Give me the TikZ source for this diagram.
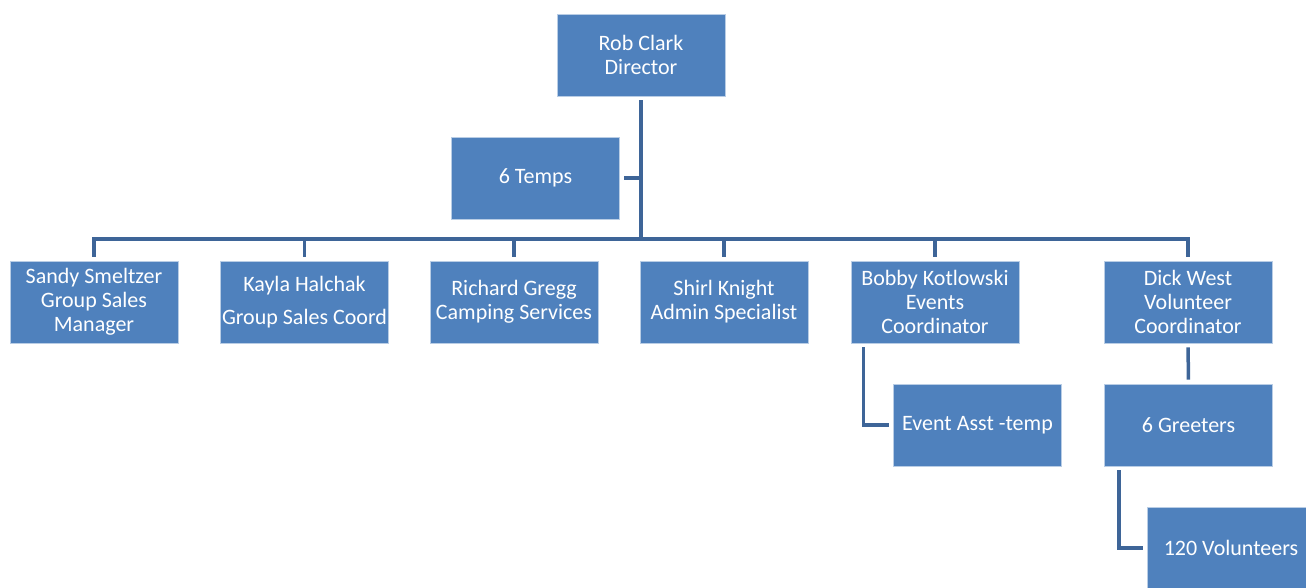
\documentclass[tikz,border=0pt]{standalone}
\usepackage{fontspec}
\setmainfont{Carlito}
\definecolor{boxblue}{RGB}{79,129,189}
\definecolor{lineblue}{RGB}{62,101,152}
\begin{document}
\begin{tikzpicture}[x=1pt,y=-1pt,
  box/.style={fill=boxblue,draw=boxblue!40!white,line width=0.8pt,text=white,
    minimum width=168pt,minimum height=82pt,inner sep=0pt,align=center,
    font=\fontsize{22}{24}\selectfont},
  conn/.style={draw=lineblue,line width=3.5pt}]
\useasboundingbox (0,0) rectangle (1306,587);
\node[box] (rob) at (641,55) {Rob Clark\\Director};
\node[box] (temps) at (535.5,178) {6 Temps};
\node[box] (sandy) at (94,302) {Sandy Smeltzer\\Group Sales\\Manager};
\node[box] (kayla) at (304.5,302) {Kayla Halchak\\[9pt]Group Sales Coord};
\node[box] (richard) at (514,302) {Richard Gregg\\Camping Services};
\node[box] (shirl) at (724,302) {Shirl Knight\\Admin Specialist};
\node[box] (bobby) at (935,302) {Bobby Kotlowski\\Events\\Coordinator};
\node[box] (dick) at (1188,302) {Dick West\\Volunteer\\Coordinator};
\node[box] (event) at (977.5,425) {Event Asst -temp};
\node[box] (greet) at (1188.5,425) {6 Greeters};
\node[box] (vol) at (1231,548) {120 Volunteers};
\coordinate (bus) at (641,239);
\draw[conn,shorten <=4pt] (rob.south) -- (bus);
\draw[conn,line cap=rect] (sandy.north |- bus) -- (dick.north |- bus);
\foreach \n in {sandy,kayla,richard,shirl,bobby,dick}
  \draw[conn,shorten >=4pt] (\n.north |- bus) -- (\n.north);
\draw[conn,shorten >=4pt] (temps.east -| bus) -- (temps.east);
\draw[conn,shorten <=4pt,shorten >=4pt] ([xshift=13pt]bobby.south west) |- (event.west);
\draw[conn,shorten <=4pt,shorten >=4pt] (dick.south) -- (greet.north);
\draw[conn,shorten <=4pt,shorten >=4pt] ([xshift=15pt]greet.south west) |- (vol.west);
\end{tikzpicture}
\end{document}
